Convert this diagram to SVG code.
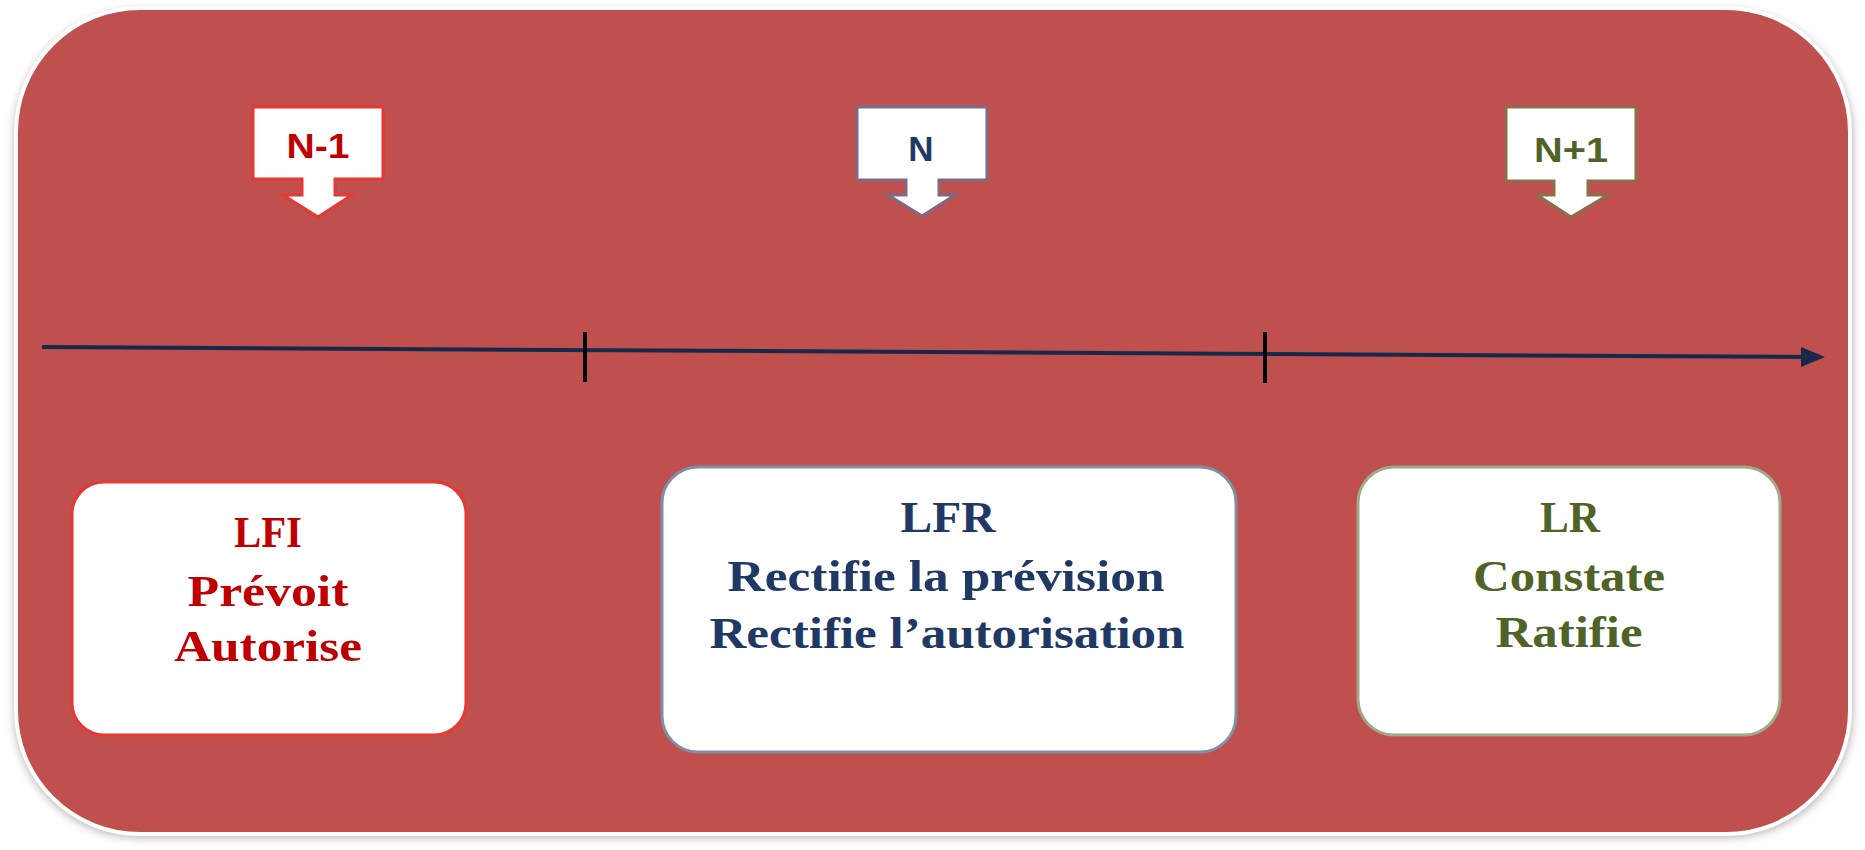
<svg xmlns="http://www.w3.org/2000/svg" width="1865" height="850" viewBox="0 0 1865 850">
<defs>
<filter id="sh" x="-5%" y="-5%" width="110%" height="110%"><feGaussianBlur stdDeviation="4"/></filter>
<marker id="ah" markerWidth="24" markerHeight="20" refX="2" refY="10" orient="auto" markerUnits="userSpaceOnUse"><path d="M0,0 L24,10 L0,20 Z" fill="#17294A"/></marker>
<style>
.ser{font-family:"Liberation Serif","Times New Roman",serif;font-weight:bold;text-anchor:middle}
.san{font-family:"Liberation Sans",Arial,sans-serif;font-weight:bold;text-anchor:middle;font-size:35px}
.box{fill:#FFFFFF;stroke-width:3}
.red{fill:#C00000}
.navy{fill:#1F3864}
.olive{fill:#4F6228}
</style>
</defs>
<rect width="1865" height="850" fill="#FFFFFF"/>
<g id="frame">
<rect x="14" y="10" width="1839" height="828" rx="125" ry="125" fill="#A89A9A" opacity="0.7" filter="url(#sh)"/>
<rect x="16" y="8" width="1834" height="826" rx="124" ry="124" fill="#C0504D" stroke="#FFFFFF" stroke-width="4"/>
</g>
<g id="connectors">
<line x1="42" y1="347" x2="1803" y2="357" stroke="#17294A" stroke-width="4" marker-end="url(#ah)"/>
<line x1="585" y1="332" x2="585" y2="382" stroke="#000000" stroke-width="4"/>
<line x1="1265" y1="332" x2="1265" y2="383" stroke="#000000" stroke-width="4"/>
</g>
<g id="callout-n-1">
<path d="M253,107 H383 V179 H335 V195 H352 L318,217 L283,195 H302 V179 H253 Z" fill="#FFFFFF" stroke="#E53935" stroke-width="3"/>
<text x="318" y="158" class="san" fill="#C00000" textLength="63" lengthAdjust="spacingAndGlyphs">N-1</text>
</g>
<g id="callout-n">
<path d="M857,107 H987 V180 H939 V195 H955 L922,216 L888,195 H906 V180 H857 Z" fill="#FFFFFF" stroke="#7E6A85" stroke-width="3"/>
<text x="921" y="161" class="san" fill="#1F3864">N</text>
</g>
<g id="callout-n1">
<path d="M1506,107 H1636 V181 H1588 V195 H1608 L1571,217 L1537,195 H1554 V181 H1506 Z" fill="#FFFFFF" stroke="#8B6E4B" stroke-width="3"/>
<text x="1571" y="162" class="san" fill="#4F6228" textLength="74" lengthAdjust="spacingAndGlyphs">N+1</text>
</g>
<g id="lfi">
<rect x="72" y="482" width="394" height="253" rx="32" ry="32" class="box" stroke="#E53935"/>
<text class="ser red" x="268" y="547" font-size="44" textLength="68" lengthAdjust="spacingAndGlyphs">LFI</text>
<text class="ser red" x="268" y="606" font-size="45" textLength="161" lengthAdjust="spacingAndGlyphs">Prévoit</text>
<text class="ser red" x="268" y="661" font-size="45" textLength="188" lengthAdjust="spacingAndGlyphs">Autorise</text>
</g>
<g id="lfr">
<rect x="662" y="467" width="574" height="285" rx="36" ry="36" class="box" stroke="#7F8FA6"/>
<text class="ser navy" x="948" y="532" font-size="44" textLength="95" lengthAdjust="spacingAndGlyphs">LFR</text>
<text class="ser navy" x="946" y="591" font-size="45" textLength="437" lengthAdjust="spacingAndGlyphs">Rectifie la prévision</text>
<text class="ser navy" x="947" y="648" font-size="45" textLength="475" lengthAdjust="spacingAndGlyphs">Rectifie l’autorisation</text>
</g>
<g id="lr">
<rect x="1358" y="467" width="422" height="268" rx="36" ry="36" class="box" stroke="#A0A888"/>
<text class="ser olive" x="1570" y="532" font-size="44" textLength="60" lengthAdjust="spacingAndGlyphs">LR</text>
<text class="ser olive" x="1569" y="591" font-size="45" textLength="192" lengthAdjust="spacingAndGlyphs">Constate</text>
<text class="ser olive" x="1569" y="647" font-size="45" textLength="147" lengthAdjust="spacingAndGlyphs">Ratifie</text>
</g>
</svg>
